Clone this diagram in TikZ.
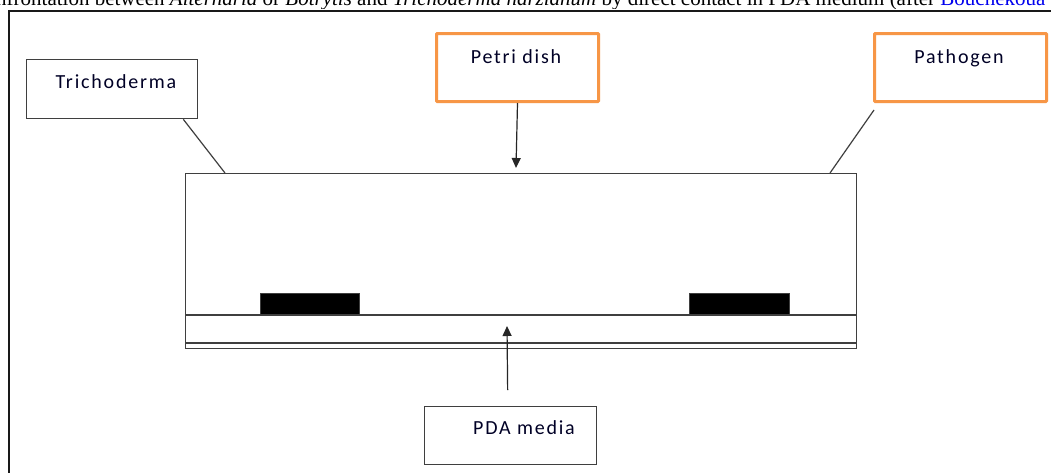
\documentclass[tikz,border=0pt]{standalone}
\usepackage{fontspec}
\setmainfont{Liberation Serif}
\newfontfamily\lblfont[LetterSpace=9]{Carlito}
\usetikzlibrary{arrows.meta}
\definecolor{boxgray}{HTML}{3F3F3F}
\definecolor{boxorange}{HTML}{F79646}
\definecolor{linkblue}{HTML}{0000EE}
\begin{document}
\begin{tikzpicture}[x=1pt,y=-1pt,
  box/.style={draw=boxgray,line width=1.3pt,rectangle,inner sep=0pt,anchor=north west},
  obox/.style={draw=boxorange,line width=3pt,rectangle,inner sep=0pt,anchor=north west,rounded corners=0.8pt},
  lbl/.style={font=\lblfont\fontsize{20}{24}\selectfont,text=black!85!blue,anchor=base,inner sep=0pt},
  conn/.style={draw=boxgray,line width=1.2pt},
  arr/.style={draw=black!85,line width=1.2pt,-{Triangle[width=9pt,length=10pt]}},
  dish/.style={draw=boxgray,line width=1.4pt}]
\useasboundingbox (0,0) rectangle (1051,472);
\fill[white] (0,0) rectangle (1051,472);
% clipped caption line
\begin{scope}
\clip (0,0) rectangle (1051,8.6);
\node[anchor=base west,inner sep=0pt,font=\fontsize{21}{24}\selectfont] (caption) at (-4,5.6)
 {nfrontation between \textit{Alternaria} or \textit{Botrytis} and \textit{Trichoderma harzianum} by direct contact in PDA medium (after \textcolor{linkblue}{Bouchekoua et al.}};
\end{scope}
% outer frame
\draw[black!90,line width=2pt] (8.8,480) -- (8.8,11) -- (1060,11);
% label boxes
\node[box,minimum width=171pt,minimum height=59pt] (tribox) at (26,59) {};
\node[lbl] (tritext) at (116,88) {Trichoderma};
\node[obox,minimum width=162pt,minimum height=68pt] (petbox) at (435,32) {};
\node[lbl] (pettext) at (516,63) {Petri dish};
\node[obox,minimum width=172pt,minimum height=68pt] (patbox) at (873,32) {};
\node[lbl] (pattext) at (959,63) {Pathogen};
\node[box,minimum width=172pt,minimum height=58pt] (pdabox) at (424,406) {};
\node[lbl] (pdatext) at (524,434) {PDA media};
% petri dish
\node[dish,rectangle,inner sep=0pt,anchor=north west,minimum width=671pt,minimum height=175pt] (dishbox) at (185,173) {};
\coordinate (medL) at (185,315);
\coordinate (medR) at (856,315);
\coordinate (botL) at (185,343);
\coordinate (botR) at (856,343);
\draw[dish] (medL) -- (medR);
\draw[dish] (botL) -- (botR);
\node[fill=black,draw=boxgray,line width=0.8pt,inner sep=0pt,anchor=south west,minimum width=99pt,minimum height=21pt] (trich) at (260,314.5) {};
\node[fill=black,draw=boxgray,line width=0.8pt,inner sep=0pt,anchor=south west,minimum width=100pt,minimum height=21pt] (path) at (689,314.5) {};
% connectors
\coordinate (triend) at (225,173);
\coordinate (patend) at (830,173);
\coordinate (petend) at (516,168);
\coordinate (pdaend) at (507,326);
\draw[conn] (tribox.south east) ++(-15,0) -- (triend);
\draw[conn] (patbox.south west) ++(1,7) -- (patend);
\draw[arr] (petbox.south) -- (petend);
\draw[arr] (pdabox.north) ++(-3,-16) -- (pdaend);
\end{tikzpicture}
\end{document}
